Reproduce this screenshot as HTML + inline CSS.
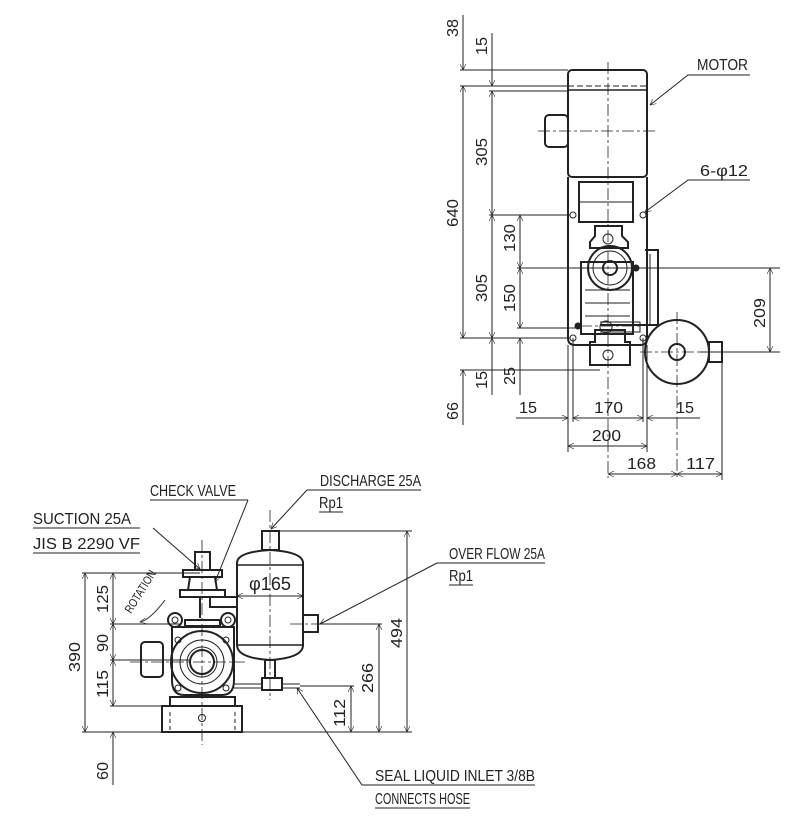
<!DOCTYPE html>
<html><head><meta charset="utf-8"><style>
html,body{margin:0;padding:0;background:#fff}
svg{display:block}
text{font-family:"Liberation Sans",sans-serif;font-size:16px;fill:#222}
</style></head><body>
<svg width="800" height="840" viewBox="0 0 800 840" xmlns="http://www.w3.org/2000/svg">
<defs>
<marker id="a" viewBox="0 0 10 10" refX="10" refY="5" markerWidth="10" markerHeight="6" orient="auto-start-reverse" markerUnits="userSpaceOnUse"><path d="M0,0 L10,5 L0,10" fill="none" stroke="#222" stroke-width="1"/></marker>
</defs>
<g fill="none" stroke="#222" stroke-width="1">
<g stroke-width="2">
<rect x="568" y="70" width="79" height="107" rx="4"/>
<rect x="545" y="115" width="23" height="32" rx="4"/>
<path d="M568 177 V338 Q568 345 575 345 H640 Q647 345 647 338 V177"/>
<rect x="579" y="182" width="54" height="40"/>
<path d="M595 226 H622 V236 L628 242 V248 H590 V242 L595 236Z"/>
<circle cx="610" cy="268" r="22"/>
<circle cx="610" cy="268" r="7"/>
<rect x="581" y="262" width="52" height="72"/>
<path d="M595 330 H625 V342 H630 V365 H590 V342 H595Z"/>
<circle cx="677" cy="352" r="32"/>
<circle cx="677" cy="352" r="8"/>
<rect x="709" y="342" width="13" height="20"/>
<path d="M645 250 H658 V325 H600"/>
</g>
<line x1="568" y1="90" x2="647" y2="90" stroke-width="1.5"/>
<line x1="568" y1="86" x2="647" y2="86" stroke-dasharray="6 3"/>
<line x1="579" y1="202" x2="633" y2="202"/>
<line x1="585" y1="290" x2="630" y2="290"/><line x1="585" y1="303" x2="630" y2="303"/><line x1="585" y1="316" x2="630" y2="316"/>
<circle cx="610" cy="268" r="17"/>
<circle cx="608" cy="239" r="5"/>
<circle cx="608" cy="355" r="5"/>
<circle cx="573" cy="215" r="3"/><circle cx="643" cy="215" r="3"/><circle cx="573" cy="338" r="3"/><circle cx="643" cy="338" r="3"/>
<path d="M600 322 H640 V332 H600" />
<circle cx="606" cy="327" r="6"/>
<circle cx="578" cy="326" r="3" fill="#222"/><circle cx="636" cy="268" r="3" fill="#222"/>
<line x1="650" y1="254" x2="650" y2="325"/>
<g stroke-dasharray="12 3 3 3" stroke-width="0.8">
<line x1="608" y1="62" x2="608" y2="478"/>
<line x1="538" y1="131" x2="657" y2="131"/>
<line x1="677" y1="312" x2="677" y2="478"/>
<line x1="640" y1="352" x2="770" y2="352"/>
<line x1="580" y1="326" x2="640" y2="326"/>
</g>
<line x1="460" y1="70" x2="568" y2="70"/>
<line x1="460" y1="86" x2="568" y2="86"/>
<line x1="489" y1="91" x2="568" y2="91"/>
<line x1="489" y1="215" x2="570" y2="215"/>
<line x1="517" y1="268" x2="780" y2="268"/>
<line x1="517" y1="328" x2="580" y2="328"/>
<line x1="460" y1="338" x2="570" y2="338"/>
<line x1="460" y1="370" x2="600" y2="370"/>
<line x1="700" y1="352" x2="780" y2="352"/>
<line x1="463" y1="15" x2="463" y2="70" marker-end="url(#a)"/>
<line x1="463" y1="86" x2="463" y2="338" marker-start="url(#a)" marker-end="url(#a)"/>
<line x1="463" y1="370" x2="463" y2="425" marker-start="url(#a)"/>
<line x1="492" y1="33" x2="492" y2="86" marker-end="url(#a)"/>
<line x1="492" y1="91" x2="492" y2="215" marker-start="url(#a)" marker-end="url(#a)"/>
<line x1="492" y1="215" x2="492" y2="338" marker-start="url(#a)" marker-end="url(#a)"/>
<line x1="492" y1="338" x2="492" y2="395" marker-start="url(#a)"/>
<line x1="520" y1="215" x2="520" y2="268" marker-start="url(#a)" marker-end="url(#a)"/>
<line x1="520" y1="268" x2="520" y2="328" marker-start="url(#a)" marker-end="url(#a)"/>
<line x1="520" y1="338" x2="520" y2="395" marker-start="url(#a)"/>
<line x1="770" y1="268" x2="770" y2="352" marker-start="url(#a)" marker-end="url(#a)"/>
<line x1="568" y1="345" x2="568" y2="452"/>
<line x1="573" y1="338" x2="573" y2="422"/>
<line x1="643" y1="338" x2="643" y2="422"/>
<line x1="647" y1="345" x2="647" y2="452"/>
<line x1="722" y1="362" x2="722" y2="480"/>
<line x1="516" y1="418" x2="568" y2="418" marker-end="url(#a)"/>
<line x1="573" y1="418" x2="643" y2="418" marker-start="url(#a)" marker-end="url(#a)"/>
<line x1="647" y1="418" x2="700" y2="418" marker-start="url(#a)"/>
<line x1="568" y1="446" x2="647" y2="446" marker-start="url(#a)" marker-end="url(#a)"/>
<line x1="608" y1="474" x2="677" y2="474" marker-start="url(#a)" marker-end="url(#a)"/>
<line x1="677" y1="474" x2="722" y2="474" marker-start="url(#a)" marker-end="url(#a)"/>
<polyline points="750,75 688,75 650,105" marker-end="url(#a)"/>
<polyline points="750,180 688,180 645,212" marker-end="url(#a)"/>

<g stroke-width="2">
<path d="M237 645 V563 Q237 552 270 550 Q303 552 303 563 V645 Q303 658 270 660 Q237 658 237 645Z"/>
<rect x="262" y="531" width="17" height="19"/>
<path d="M303 615 H318 V632 H303"/>
<rect x="265" y="660" width="10" height="18"/>
<rect x="262" y="678" width="20" height="12"/>
<rect x="195" y="552" width="15" height="18"/>
<rect x="183" y="570" width="39" height="7"/>
<path d="M190 577 L188 590 M215 577 L217 590"/>
<rect x="180" y="590" width="45" height="7"/>
<path d="M200 597 V618 M210 597 V607 H237 M200 597 H237"/>
<rect x="185" y="620" width="35" height="6"/>
<circle cx="175" cy="620" r="7"/><circle cx="228" cy="620" r="7"/>
<path d="M172 627 H234 V680 Q234 695 222 695 H184 Q172 695 172 680Z"/>
<circle cx="202" cy="662" r="31"/>
<circle cx="202" cy="662" r="12"/>
<rect x="141" y="642" width="22" height="35" rx="4"/>
<rect x="170" y="697" width="65" height="9"/>
<rect x="162" y="706" width="80" height="26"/>
</g>
<line x1="237" y1="565" x2="303" y2="565" stroke-width="1.5"/>
<line x1="237" y1="645" x2="303" y2="645" stroke-width="1.5"/>
<circle cx="202" cy="662" r="22"/>
<circle cx="202" cy="662" r="15"/>
<circle cx="178" cy="640" r="3"/><circle cx="226" cy="640" r="3"/><circle cx="178" cy="688" r="3"/><circle cx="226" cy="688" r="3"/>
<circle cx="202" cy="718" r="3.5"/>
<path d="M163 660 H172 M234 684 H262 M234 688 H262 M282 684 H300 M282 688 H300"/>
<path d="M170 712 V732 M235 712 V732" stroke-dasharray="4 3"/>
<circle cx="175" cy="620" r="3"/><circle cx="228" cy="620" r="3"/>
<g stroke-dasharray="12 3 3 3" stroke-width="0.8">
<line x1="202" y1="540" x2="202" y2="745"/>
<line x1="270" y1="510" x2="270" y2="700"/>
<line x1="130" y1="662" x2="245" y2="662"/>
<line x1="290" y1="624" x2="325" y2="624"/>
</g>
<line x1="82" y1="573" x2="200" y2="573"/>
<line x1="110" y1="624" x2="180" y2="624"/>
<line x1="110" y1="660" x2="190" y2="660"/>
<line x1="110" y1="706" x2="165" y2="706"/>
<line x1="82" y1="732" x2="412" y2="732"/>
<line x1="280" y1="531" x2="412" y2="531"/>
<line x1="318" y1="624" x2="382" y2="624"/>
<line x1="300" y1="686" x2="354" y2="686"/>
<line x1="85" y1="573" x2="85" y2="732" marker-start="url(#a)" marker-end="url(#a)"/>
<line x1="113" y1="573" x2="113" y2="624" marker-start="url(#a)" marker-end="url(#a)"/>
<line x1="113" y1="624" x2="113" y2="660" marker-start="url(#a)" marker-end="url(#a)"/>
<line x1="113" y1="660" x2="113" y2="706" marker-start="url(#a)" marker-end="url(#a)"/>
<line x1="113" y1="732" x2="113" y2="785" marker-start="url(#a)"/>
<line x1="407" y1="531" x2="407" y2="732" marker-start="url(#a)" marker-end="url(#a)"/>
<line x1="379" y1="624" x2="379" y2="732" marker-start="url(#a)" marker-end="url(#a)"/>
<line x1="351" y1="686" x2="351" y2="732" marker-start="url(#a)" marker-end="url(#a)"/>
<line x1="237" y1="596" x2="303" y2="596" marker-start="url(#a)" marker-end="url(#a)"/>
<path d="M165 600 Q150 620 140 622" marker-end="url(#a)"/>
<polyline points="248,500 150,500"/>
<line x1="248" y1="500" x2="215" y2="582" marker-end="url(#a)"/>
<line x1="33" y1="528" x2="140" y2="528"/><line x1="33" y1="553" x2="140" y2="553"/>
<line x1="153" y1="528" x2="200" y2="569" marker-end="url(#a)"/>
<line x1="307" y1="490" x2="421" y2="490"/><line x1="319" y1="512" x2="343" y2="512"/>
<line x1="307" y1="490" x2="271" y2="529" marker-end="url(#a)"/>
<line x1="437" y1="563" x2="545" y2="563"/><line x1="449" y1="585" x2="473" y2="585"/>
<line x1="437" y1="563" x2="320" y2="624" marker-end="url(#a)"/>
<line x1="375" y1="785" x2="535" y2="785"/><line x1="375" y1="808" x2="470" y2="808"/>
<polyline points="375,785 362,785 297,688" marker-end="url(#a)"/>
</g>

<g>
<text x="697" y="70" textLength="51" lengthAdjust="spacingAndGlyphs">MOTOR</text>
<text x="700" y="176" textLength="48" lengthAdjust="spacingAndGlyphs">6-φ12</text>
<g transform="rotate(-90)">
<text x="-37" y="458" textLength="18" lengthAdjust="spacingAndGlyphs">38</text>
<text x="-55" y="487" textLength="18" lengthAdjust="spacingAndGlyphs">15</text>
<text x="-166" y="487" textLength="28" lengthAdjust="spacingAndGlyphs">305</text>
<text x="-227" y="458" textLength="28" lengthAdjust="spacingAndGlyphs">640</text>
<text x="-252" y="515" textLength="28" lengthAdjust="spacingAndGlyphs">130</text>
<text x="-302" y="487" textLength="28" lengthAdjust="spacingAndGlyphs">305</text>
<text x="-312" y="515" textLength="28" lengthAdjust="spacingAndGlyphs">150</text>
<text x="-389" y="487" textLength="18" lengthAdjust="spacingAndGlyphs">15</text>
<text x="-385" y="515" textLength="18" lengthAdjust="spacingAndGlyphs">25</text>
<text x="-420" y="458" textLength="18" lengthAdjust="spacingAndGlyphs">66</text>
<text x="-328" y="765" textLength="30" lengthAdjust="spacingAndGlyphs">209</text>
<text x="-672" y="80" textLength="30" lengthAdjust="spacingAndGlyphs">390</text>
<text x="-613" y="108" textLength="28" lengthAdjust="spacingAndGlyphs">125</text>
<text x="-652" y="108" textLength="18" lengthAdjust="spacingAndGlyphs">90</text>
<text x="-698" y="108" textLength="28" lengthAdjust="spacingAndGlyphs">115</text>
<text x="-780" y="108" textLength="18" lengthAdjust="spacingAndGlyphs">60</text>
<text x="-648" y="402" textLength="30" lengthAdjust="spacingAndGlyphs">494</text>
<text x="-693" y="373" textLength="30" lengthAdjust="spacingAndGlyphs">266</text>
<text x="-727" y="345" textLength="28" lengthAdjust="spacingAndGlyphs">112</text>
</g>
<text x="519" y="413" textLength="18" lengthAdjust="spacingAndGlyphs">15</text>
<text x="594" y="413" textLength="29" lengthAdjust="spacingAndGlyphs">170</text>
<text x="676" y="413" textLength="18" lengthAdjust="spacingAndGlyphs">15</text>
<text x="592" y="441" textLength="29" lengthAdjust="spacingAndGlyphs">200</text>
<text x="627" y="469" textLength="29" lengthAdjust="spacingAndGlyphs">168</text>
<text x="686" y="469" textLength="29" lengthAdjust="spacingAndGlyphs">117</text>
<text x="150" y="496" textLength="86" lengthAdjust="spacingAndGlyphs">CHECK VALVE</text>
<text x="33" y="524" textLength="98" lengthAdjust="spacingAndGlyphs">SUCTION 25A</text>
<text x="33" y="549" textLength="107" lengthAdjust="spacingAndGlyphs">JIS B 2290 VF</text>
<text x="320" y="486" textLength="101" lengthAdjust="spacingAndGlyphs">DISCHARGE 25A</text>
<text x="319" y="508" textLength="24" lengthAdjust="spacingAndGlyphs">Rp1</text>
<text x="449" y="559" textLength="96" lengthAdjust="spacingAndGlyphs">OVER FLOW 25A</text>
<text x="449" y="581" textLength="24" lengthAdjust="spacingAndGlyphs">Rp1</text>
<text x="375" y="781" textLength="160" lengthAdjust="spacingAndGlyphs">SEAL LIQUID INLET 3/8B</text>
<text x="375" y="804" textLength="95" lengthAdjust="spacingAndGlyphs">CONNECTS HOSE</text>
<text x="249" y="590" style="font-size:18px" textLength="42" lengthAdjust="spacingAndGlyphs">φ165</text>
<text transform="translate(131,614) rotate(-58)" style="font-size:12px" textLength="48" lengthAdjust="spacingAndGlyphs">ROTATION</text>
</g>
</svg>
</body></html>
